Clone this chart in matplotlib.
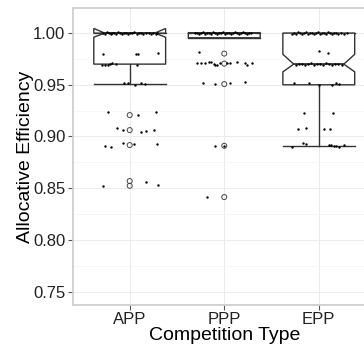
import numpy as np
import matplotlib
matplotlib.use("Agg")
import matplotlib.pyplot as plt

plt.rcParams['font.family'] = ['Liberation Sans', 'DejaVu Sans']

groups = ["APP", "PPP", "EPP"]
q1 = [0.970, 0.9955, 0.950]
med = [1.000, 1.000, 0.970]
q3 = [1.000, 1.000, 1.000]
whislo = [0.9505, 0.9955, 0.891]
whishi = [1.000, 1.000, 1.000]
notch_lo = [0.996, 0.9995, 0.9625]
notch_hi = [1.0045, 1.0005, 0.9795]

# outliers (open circles)
app_out = [0.9207, 0.9062, 0.8917, 0.8569, 0.8523]
ppp_out = [0.9802, 0.9705, 0.9507, 0.891, 0.8414]
epp_out = []

# jittered raw points: x offset from category centre, value
app_dx = [-0.285, -0.264, -0.243, -0.222, -0.201, -0.190, -0.169, -0.148, -0.127, -0.106,
          -0.084, -0.063, -0.042, -0.021, 0.000, 0.021, 0.042, 0.074, 0.095, 0.116,
          0.137, 0.169, 0.201, 0.222, 0.243, 0.275, 0.285,
          -0.285, 0.063, 0.088, 0.296,
          -0.288, -0.264, -0.235, -0.211, -0.183, -0.148, 0.074,
          -0.060, -0.014, 0.056, 0.116, 0.162,
          -0.225, 0.088, 0.282, -0.137, -0.071, 0.124, 0.176, 0.257,
          -0.261, -0.201, -0.071, 0.045, 0.293, -0.282, 0.176, 0.303]
app_y = [1.0005, 0.9995, 1.001, 1.000, 0.999, 1.0005, 1.000, 0.9995, 1.001, 1.000,
         0.9995, 1.0005, 1.000, 0.999, 1.0005, 1.000, 1.001, 0.9995, 1.000, 1.0005,
         0.999, 1.000, 1.0005, 0.9995, 1.000, 0.999, 1.0005,
         0.9795, 0.9797, 0.9795, 0.9807,
         0.9693, 0.9688, 0.9693, 0.970, 0.971, 0.9697, 0.9693,
         0.9514, 0.952, 0.950, 0.9516, 0.9507,
         0.9233, 0.9207, 0.9233, 0.9078, 0.9059, 0.9046, 0.9055, 0.9065,
         0.8904, 0.8895, 0.8933, 0.8924, 0.8924, 0.8518, 0.8562, 0.853]

ppp_dx = [-0.306, -0.285, -0.264, -0.243, -0.222, -0.201, -0.180, -0.158, -0.137, -0.116,
          -0.095, -0.074, -0.053, -0.032, -0.011, 0.011, 0.032, 0.053, 0.074, 0.095,
          0.116, 0.137, 0.158, 0.180, 0.201, 0.222, 0.243, 0.264, 0.285,
          -0.269,
          -0.288, -0.246, -0.201, -0.166, -0.140, -0.113, -0.095, -0.077, -0.050, 0.029,
          0.056, 0.134, 0.222, 0.240, 0.293,
          -0.225, -0.093, 0.065, 0.224,
          -0.095, 0.000, -0.183]
ppp_y = [1.000, 1.0005, 0.9995, 1.000, 1.001, 0.9995, 1.0005, 1.000, 0.999, 1.001,
         1.000, 0.9995, 1.0005, 1.000, 1.001, 0.9995, 1.000, 1.0005, 0.999, 1.000,
         1.001, 1.0005, 0.9995, 1.000, 1.001, 1.000, 0.9995, 1.0005, 1.000,
         0.9821,
         0.971, 0.971, 0.971, 0.972, 0.9725, 0.9705, 0.969, 0.9695, 0.9707, 0.9713,
         0.9707, 0.972, 0.9707, 0.9695, 0.971,
         0.952, 0.9507, 0.9517, 0.9523,
         0.8905, 0.891, 0.8411]

epp_dx = [-0.280, -0.259, -0.238, -0.216, -0.195, -0.174, -0.153, -0.132, -0.111, -0.090,
          -0.069, -0.048, -0.026, -0.005, 0.016, 0.037, 0.058, 0.079, 0.100, 0.121,
          0.143, 0.164, 0.185, 0.206, 0.238, 0.269, 0.301,
          -0.002, 0.093,
          -0.238, -0.206, -0.174, -0.143, -0.111, -0.079, -0.048, -0.016, 0.016, 0.048,
          0.079, 0.111, 0.143, 0.174, 0.206, 0.248,
          -0.262, -0.106, 0.007, 0.143, 0.180, 0.219,
          -0.158, 0.148,
          -0.222, -0.140, 0.060, 0.118,
          -0.287, -0.164, -0.140, 0.106, 0.130, 0.158, 0.185, 0.219, 0.267]
epp_y = [0.9995, 1.0005, 0.999, 1.001, 1.000, 0.9995, 1.0005, 1.001, 0.999, 1.000,
         1.0005, 0.9995, 1.000, 1.001, 0.9995, 1.0005, 1.000, 0.999, 1.001, 1.000,
         0.9995, 1.0005, 1.000, 0.999, 1.000, 0.9995, 1.0005,
         0.9823, 0.981,
         0.9695, 0.970, 0.9705, 0.9695, 0.970, 0.971, 0.9695, 0.9705, 0.970, 0.9695,
         0.971, 0.970, 0.9695, 0.9705, 0.970, 0.9695,
         0.9514, 0.9521, 0.9501, 0.9499, 0.9516, 0.9507,
         0.9224, 0.9231,
         0.9069, 0.9078, 0.9069, 0.9075,
         0.8895, 0.8933, 0.8927, 0.8922, 0.8917, 0.8912, 0.8907, 0.8902, 0.8917]

box_w = 0.76
indent = 0.115
line_col = "#333333"

fig = plt.figure(figsize=(3.64, 3.47), dpi=100)
ax = fig.add_axes([73 / 364, 42 / 347, 302.5 / 364, 296.7 / 347])

outliers = [app_out, ppp_out, epp_out]
for i, g in enumerate(groups):
    x = i + 1
    l, r = x - box_w / 2, x + box_w / 2
    # whisker and caps
    ax.plot([x, x], [whislo[i], q1[i]], color=line_col, lw=1.0, zorder=2)
    ax.plot([x, x], [q3[i], whishi[i]], color=line_col, lw=1.0, zorder=2)
    ax.plot([l, r], [whislo[i], whislo[i]], color=line_col, lw=1.0, zorder=2)
    ax.plot([l, r], [whishi[i], whishi[i]], color=line_col, lw=1.0, zorder=2)
    # notched box
    bx = [l, l, l + indent, l, l, r, r, r - indent, r, r, l]
    by = [q3[i], notch_hi[i], med[i], notch_lo[i], q1[i], q1[i], notch_lo[i], med[i],
          notch_hi[i], q3[i], q3[i]]
    ax.fill(bx, by, facecolor="white", edgecolor=line_col, lw=1.0, zorder=3)
    ax.plot([l + indent, r - indent], [med[i], med[i]], color=line_col, lw=1.3, zorder=4)
    # outliers
    ax.scatter([x] * len(outliers[i]), outliers[i], s=13, facecolors="none",
               edgecolors="#444444", linewidths=0.7, zorder=5)

for i, (dx, yy) in enumerate([(app_dx, app_y), (ppp_dx, ppp_y), (epp_dx, epp_y)]):
    ax.scatter(np.array(dx) + i + 1, yy, s=3, color="black", lw=0, zorder=6)

ax.set_xlim(0.4, 3.6)
ax.set_ylim(0.737, 1.024)
ax.set_xticks([1, 2, 3])
ax.set_xticklabels(groups)
ax.set_yticks([0.75, 0.80, 0.85, 0.90, 0.95, 1.00])
ax.set_yticklabels(["0.75", "0.80", "0.85", "0.90", "0.95", "1.00"])
ax.set_yticks([0.775, 0.825, 0.875, 0.925, 0.975], minor=True)
ax.grid(True, which="major", color="#EBEBEB", lw=0.7, zorder=0)
ax.grid(True, which="minor", axis="y", color="#F5F5F5", lw=0.6, zorder=0)
ax.set_axisbelow(True)
for s in ax.spines.values():
    s.set_color("#CFCFCF")
    s.set_linewidth(1.3)
ax.tick_params(axis="both", which="major", colors="#555555", length=3.5, width=0.8,
               labelsize=12, labelcolor="#222222")
ax.tick_params(axis="x", pad=1.5)
ax.tick_params(axis="y", pad=2)
ax.tick_params(which="minor", length=0)
ax.set_xlabel("Competition Type", fontsize=14)
ax.set_ylabel("Allocative Efficiency", fontsize=14)
ax.xaxis.set_label_coords(0.5, -0.075)
ax.yaxis.set_label_coords(-0.13, 0.5)

fig.savefig("out.png", dpi=100)
